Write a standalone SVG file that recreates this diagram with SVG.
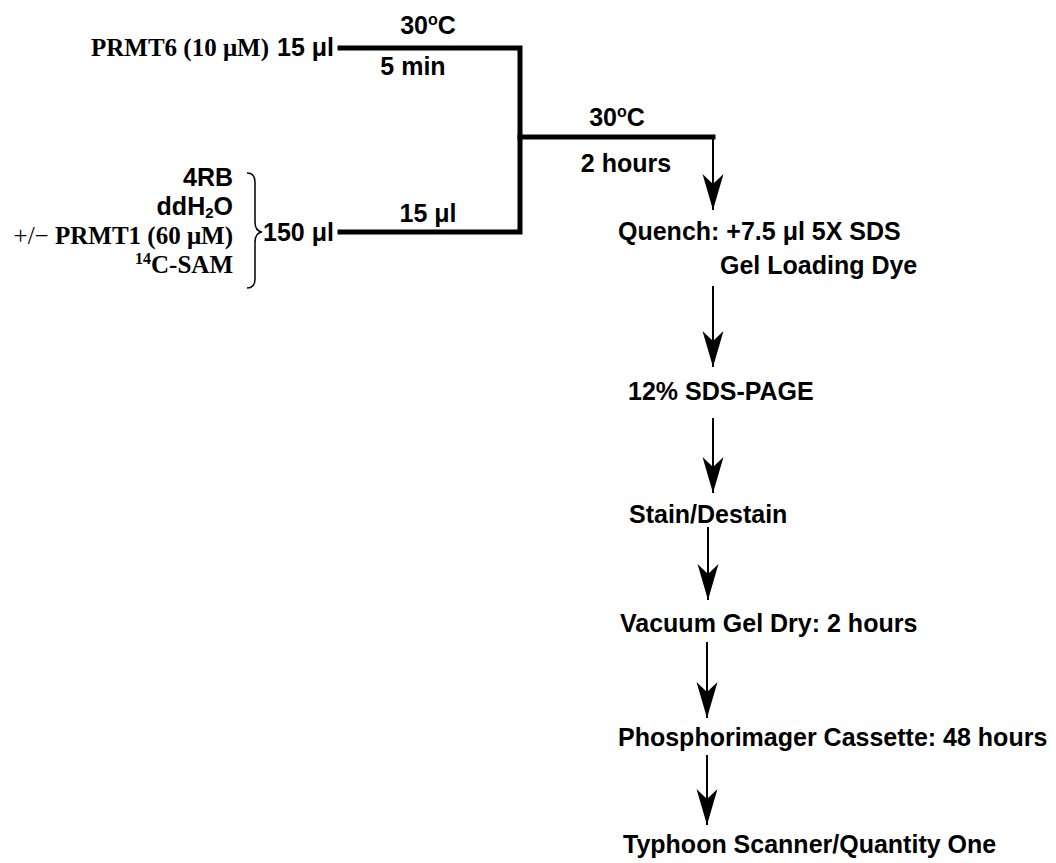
<svg xmlns="http://www.w3.org/2000/svg" width="1056" height="863" viewBox="0 0 1056 863">
<style>
.a{font-family:"Liberation Sans",Arial,sans-serif;font-weight:bold;font-size:25px;fill:#000}
.t{font-family:"Liberation Serif","Times New Roman",serif;font-weight:bold;font-size:25px;fill:#000}
.thick{stroke:#000;stroke-width:5;fill:none;stroke-linecap:square}
.thin{stroke:#000;stroke-width:2;fill:none}
.brace{stroke:#000;stroke-width:1.5;fill:none}
</style>
<defs>
<marker id="ah" markerUnits="userSpaceOnUse" markerWidth="38" markerHeight="24" viewBox="-37 -12 38 24" refX="0" refY="0" orient="auto">
<path d="M0,0 L-36,-10.5 L-26,0 L-36,10.5 Z" fill="#000"/>
</marker>
</defs>
<rect width="1056" height="863" fill="#fff"/>
<g id="connectors">
<path class="thick" d="M340,48 H520 V232 H340"/>
<path class="thick" d="M520,137 H713"/>
<line class="thin" x1="713" y1="137" x2="713" y2="210" marker-end="url(#ah)"/>
<line class="thin" x1="713" y1="286" x2="713" y2="367" marker-end="url(#ah)"/>
<line class="thin" x1="713" y1="418" x2="713" y2="493" marker-end="url(#ah)"/>
<line class="thin" x1="708" y1="527" x2="708" y2="600" marker-end="url(#ah)"/>
<line class="thin" x1="707" y1="642" x2="707" y2="718" marker-end="url(#ah)"/>
<line class="thin" x1="707" y1="755" x2="707" y2="825" marker-end="url(#ah)"/>
<path class="brace" d="M247,173 Q255,173 255,182 V222 Q255,231 262,232 Q255,233 255,242 V279 Q255,288 247,288"/>
</g>
<g id="prmt6">
<text class="t" x="269" y="56" text-anchor="end">PRMT6 (10 μM)</text>
<text class="a" x="277" y="56">15 μl</text>
</g>
<g id="step1-label">
<text class="a" x="428" y="34" text-anchor="middle">30<tspan font-size="16" dy="-9">o</tspan><tspan dy="9">C</tspan></text>
<text class="a" x="413" y="75" text-anchor="middle">5 min</text>
</g>
<g id="mix">
<text class="a" x="233" y="186" text-anchor="end">4RB</text>
<text class="a" x="233" y="215" text-anchor="end">ddH<tspan font-size="15" dy="3">2</tspan><tspan dy="-3">O</tspan></text>
<text class="t" x="233" y="244" text-anchor="end"><tspan font-weight="normal">+/− </tspan>PRMT1 (60 μM)</text>
<text class="t" x="233" y="273" text-anchor="end"><tspan font-size="16" dy="-9">14</tspan><tspan dy="9">C-SAM</tspan></text>
<text class="a" x="263" y="241">150 μl</text>
</g>
<g id="mix-volume">
<text class="a" x="428" y="222" text-anchor="middle">15 μl</text>
</g>
<g id="step2-label">
<text class="a" x="617" y="126" text-anchor="middle">30<tspan font-size="16" dy="-9">o</tspan><tspan dy="9">C</tspan></text>
<text class="a" x="626" y="172" text-anchor="middle">2 hours</text>
</g>
<g id="quench">
<text class="a" x="618" y="240">Quench: +7.5 μl 5X SDS</text>
<text class="a" x="720" y="274">Gel Loading Dye</text>
</g>
<g id="sds-page">
<text class="a" x="628" y="400">12% SDS-PAGE</text>
</g>
<g id="stain">
<text class="a" x="629" y="523">Stain/Destain</text>
</g>
<g id="dry">
<text class="a" x="620" y="632">Vacuum Gel Dry: 2 hours</text>
</g>
<g id="cassette">
<text class="a" x="618" y="746">Phosphorimager Cassette: 48 hours</text>
</g>
<g id="scanner">
<text class="a" x="623" y="853">Typhoon Scanner/Quantity One</text>
</g>
</svg>
